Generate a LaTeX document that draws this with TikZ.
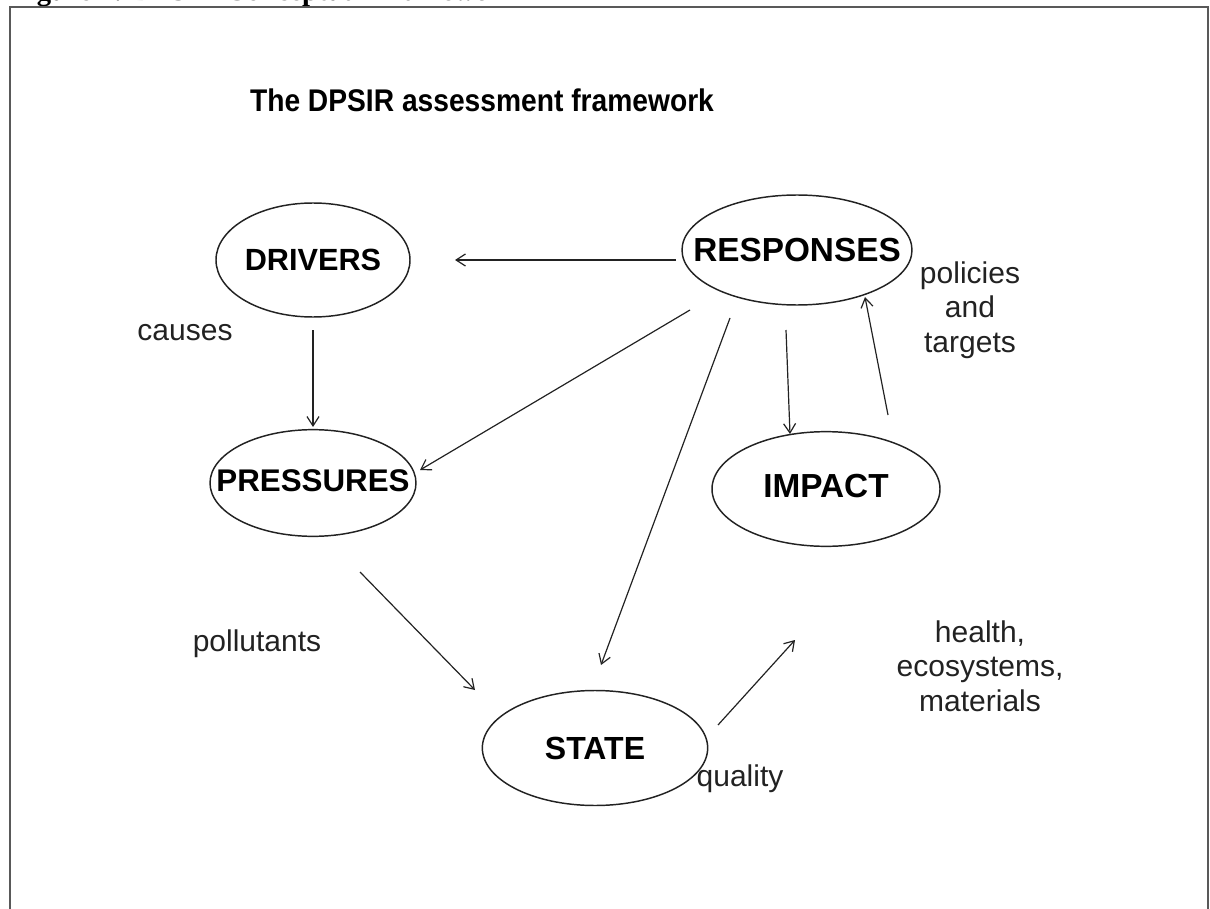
\documentclass[tikz,border=0pt]{standalone}
\usepackage{fontspec}
\setmainfont{Liberation Sans}
\newfontfamily\capfont{Liberation Serif}
\usetikzlibrary{shapes.geometric,arrows.meta,calc}
\definecolor{ink}{HTML}{222222}
\tikzset{
  blob/.style={ellipse, draw=ink, line width=1.1pt, inner sep=0pt, text=black},
  arr/.style={draw=ink, line width=0.9pt, -{Straight Barb[length=7pt,width=9pt,line width=0.9pt]}},
  lbl/.style={font=\fontsize{22.5}{26}\selectfont, align=center, text=ink},
}
\newcommand{\blobtext}[3]{\raisebox{#2}{\makebox[0pt]{\fontsize{#1}{#1}\selectfont\bfseries #3}}}
\begin{document}
\begin{tikzpicture}[x=0.75pt,y=-0.75pt]
\useasboundingbox (0,0) rectangle (1210,909);
\clip (0,0) rectangle (1210,909);
% caption (cut off at top)
\node[anchor=base west, inner sep=0pt, font=\capfont\fontsize{21.5}{21.5}\selectfont\bfseries] (cap) at (11,1) {Figure 1: DPSIR Conceptual Framework};
% frame
\draw[draw=ink!75, line width=1.2pt] (10,920) -- (10,7) -- (1208,7) -- (1208,920);
% title
\node[font=\fontsize{23.5}{23.5}\selectfont\bfseries] (title) at (482,100) {\scalebox{0.9}[1]{The DPSIR assessment framework}};
% ellipses
\node[blob, minimum width=145.5pt, minimum height=85.5pt] (drv) at (313,260) {\blobtext{23}{0pt}{DRIVERS}};
\node[blob, minimum width=172.5pt, minimum height=82.5pt] (resp) at (797,250) {\blobtext{25}{0pt}{RESPONSES}};
\node[blob, minimum width=154.5pt, minimum height=80pt] (pres) at (313,483) {\blobtext{23.5}{4pt}{PRESSURES}};
\node[blob, minimum width=171pt, minimum height=86pt] (imp) at (826,489) {\blobtext{25}{4pt}{IMPACT}};
\node[blob, minimum width=169pt, minimum height=86.25pt] (state) at (595,748) {\blobtext{24}{0pt}{STATE}};
% labels
\node[lbl] (lcauses) at (185,333) {causes};
\node[lbl] (lpol) at (970,310) {policies\\and\\targets};
\node[lbl] (lpollut) at (257,644) {pollutants};
\node[lbl] (lhealth) at (980,666) {health,\\ecosystems,\\materials};
\node[lbl] (lqual) at (740,779) {quality};
% connectors
\draw[arr] ($(resp)+(-121,10)$) -- ($(drv)+(142,0)$);
\draw[arr] ($(drv)+(0,70)$) -- ($(pres)+(0,-56)$);
\draw[arr] ($(resp)+(-107,60)$) -- ($(pres)+(107,-13)$);
\draw[arr] ($(resp)+(-67,68)$) -- ($(state)+(6,-83)$);
\draw[arr] ($(resp)+(-11,80)$) -- ($(imp)+(-36,-55)$);
\draw[arr] ($(imp)+(62,-74)$) -- ($(resp)+(68,47)$);
\draw[arr] ($(pres)+(47,89)$) -- ($(state)+(-120,-58)$);
\draw[arr] ($(state)+(123,-23)$) -- ($(imp)+(-31,151)$);
\end{tikzpicture}
\end{document}
